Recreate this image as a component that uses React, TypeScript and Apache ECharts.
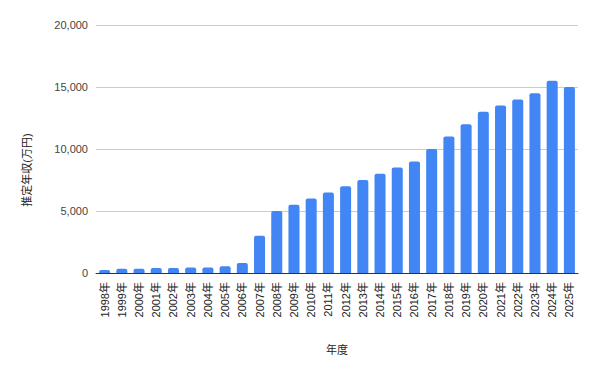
import React, { useEffect, useRef } from "react";
import * as echarts from "echarts";

const years = [
  "1998年", "1999年", "2000年", "2001年", "2002年", "2003年", "2004年",
  "2005年", "2006年", "2007年", "2008年", "2009年", "2010年", "2011年",
  "2012年", "2013年", "2014年", "2015年", "2016年", "2017年", "2018年",
  "2019年", "2020年", "2021年", "2022年", "2023年", "2024年", "2025年",
];
const income = [
  250, 350, 350, 400, 400, 450, 450, 550, 800, 3000, 5000, 5500, 6000, 6500,
  7000, 7500, 8000, 8500, 9000, 10000, 11000, 12000, 13000, 13500, 14000,
  14500, 15500, 15000,
];
const yAxisTitle = "推定年収(万円)";
const xAxisTitle = "年度";

const FONT = "'Liberation Sans', Arial, 'Noto Sans CJK JP', sans-serif";

export default function App() {
  const ref = useRef<HTMLDivElement>(null);
  useEffect(() => {
    if (!ref.current) return;
    const chart = echarts.init(ref.current, undefined, { renderer: "svg" });
    chart.setOption({
      animation: false,
      backgroundColor: "#ffffff",
      grid: { left: 96, right: 22, top: 25, bottom: 97, containLabel: false },
      xAxis: {
        type: "category",
        data: years,
        axisLine: { show: true, lineStyle: { color: "#333333", width: 1 } },
        axisTick: { show: false },
        axisLabel: {
          rotate: 90,
          margin: 9,
          fontSize: 11,
          color: "#222222",
          fontFamily: FONT,
          interval: 0,
        },
      },
      yAxis: {
        type: "value",
        min: 0,
        max: 20000,
        interval: 5000,
        axisLine: { show: false },
        axisTick: { show: false },
        splitLine: { lineStyle: { color: "#cccccc", width: 1 } },
        axisLabel: {
          margin: 8,
          fontSize: 11,
          color: "#444444",
          fontFamily: FONT,
          formatter: (v: number) => v.toLocaleString("en-US"),
        },
      },
      series: [
        {
          type: "bar",
          data: income,
          barWidth: "64%",
          itemStyle: { color: "#4285F4", borderRadius: [2, 2, 0, 0] },
        },
      ],
      graphic: [
        {
          type: "text",
          x: 27,
          y: 170,
          rotation: Math.PI / 2,
          style: {
            text: yAxisTitle,
            fontSize: 11,
            fill: "#222222",
            fontFamily: FONT,
            align: "center",
            verticalAlign: "middle",
          },
        },
        {
          type: "text",
          x: 337,
          y: 350,
          style: {
            text: xAxisTitle,
            fontSize: 11,
            fill: "#222222",
            fontFamily: FONT,
            align: "center",
            verticalAlign: "middle",
          },
        },
      ],
    });
    return () => chart.dispose();
  }, []);
  return <div ref={ref} style={{ width: 600, height: 370, margin: -8 }} />;
}
